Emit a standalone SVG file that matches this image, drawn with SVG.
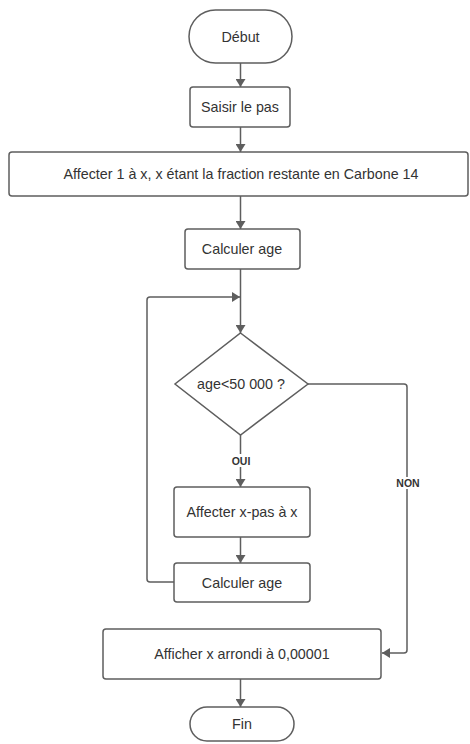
<svg xmlns="http://www.w3.org/2000/svg" width="470" height="744" viewBox="0 0 470 744">
<style>
.s{fill:#fff;stroke:#5e5e5e;stroke-width:1.5}
.t{font-family:"Liberation Sans",Arial,sans-serif;font-size:14.3px;fill:#333;text-anchor:middle;dominant-baseline:central}
.l{font-family:"Liberation Sans",Arial,sans-serif;font-size:10.5px;font-weight:bold;fill:#333;text-anchor:middle;dominant-baseline:central}
.c{fill:none;stroke:#5e5e5e;stroke-width:1.5}
</style>
<defs>
<marker id="a" viewBox="0 0 10 10" refX="10" refY="5" markerWidth="8" markerHeight="10" markerUnits="userSpaceOnUse" orient="auto" preserveAspectRatio="none">
<path d="M0,0 L10,5 L0,10 z" fill="#5e5e5e"/>
</marker>
</defs>
<rect width="470" height="744" fill="#fff"/>
<g id="connectors">
<path class="c" d="M240.5,63 V87" marker-end="url(#a)"/>
<path class="c" d="M240.5,127 V152" marker-end="url(#a)"/>
<path class="c" d="M240.5,196 V229" marker-end="url(#a)"/>
<path class="c" d="M240.5,269 V333" marker-end="url(#a)"/>
<path class="c" d="M174,582 H150 Q147,582 147,579 V300 Q147,297 150,297 H240" marker-end="url(#a)"/>
<path class="c" d="M240.5,435 V454 M240.5,467 V487" marker-end="url(#a)"/>
<path class="c" d="M240.5,537 V563" marker-end="url(#a)"/>
<path class="c" d="M308,384 H404 Q407,384 407,387 V477 M407,489 V650 Q407,653 404,653 H382" marker-end="url(#a)"/>
<path class="c" d="M240.5,679 V707" marker-end="url(#a)"/>
<text class="l" x="241" y="461">OUI</text>
<text class="l" x="408" y="483">NON</text>
</g>
<g id="debut">
<rect class="s" x="189" y="10" width="103" height="53" rx="26.5"/>
<text class="t" x="240.5" y="36.5">Début</text>
</g>
<g id="saisir">
<rect class="s" x="190" y="87" width="100" height="40" rx="3"/>
<text class="t" x="240" y="107">Saisir le pas</text>
</g>
<g id="affecter1">
<rect class="s" x="9" y="152" width="459" height="44" rx="3"/>
<text class="t" x="241" y="174">Affecter 1 à x, x étant la fraction restante en Carbone 14</text>
</g>
<g id="calculer1">
<rect class="s" x="185" y="229" width="115" height="40" rx="3"/>
<text class="t" x="242" y="249">Calculer age</text>
</g>
<g id="decision">
<polygon class="s" points="240.5,333 308,384 240.5,435 175,384"/>
<text class="t" x="241" y="384">age&lt;50 000 ?</text>
</g>
<g id="affecter2">
<rect class="s" x="174" y="487" width="136" height="50" rx="3"/>
<text class="t" x="242" y="512">Affecter x-pas à x</text>
</g>
<g id="calculer2">
<rect class="s" x="174" y="563" width="136" height="39" rx="3"/>
<text class="t" x="242" y="582.5">Calculer age</text>
</g>
<g id="afficher">
<rect class="s" x="103" y="629" width="278" height="50" rx="3"/>
<text class="t" x="242" y="654">Afficher x arrondi à 0,00001</text>
</g>
<g id="fin">
<rect class="s" x="190" y="707" width="104" height="34" rx="17"/>
<text class="t" x="242" y="724">Fin</text>
</g>
</svg>
